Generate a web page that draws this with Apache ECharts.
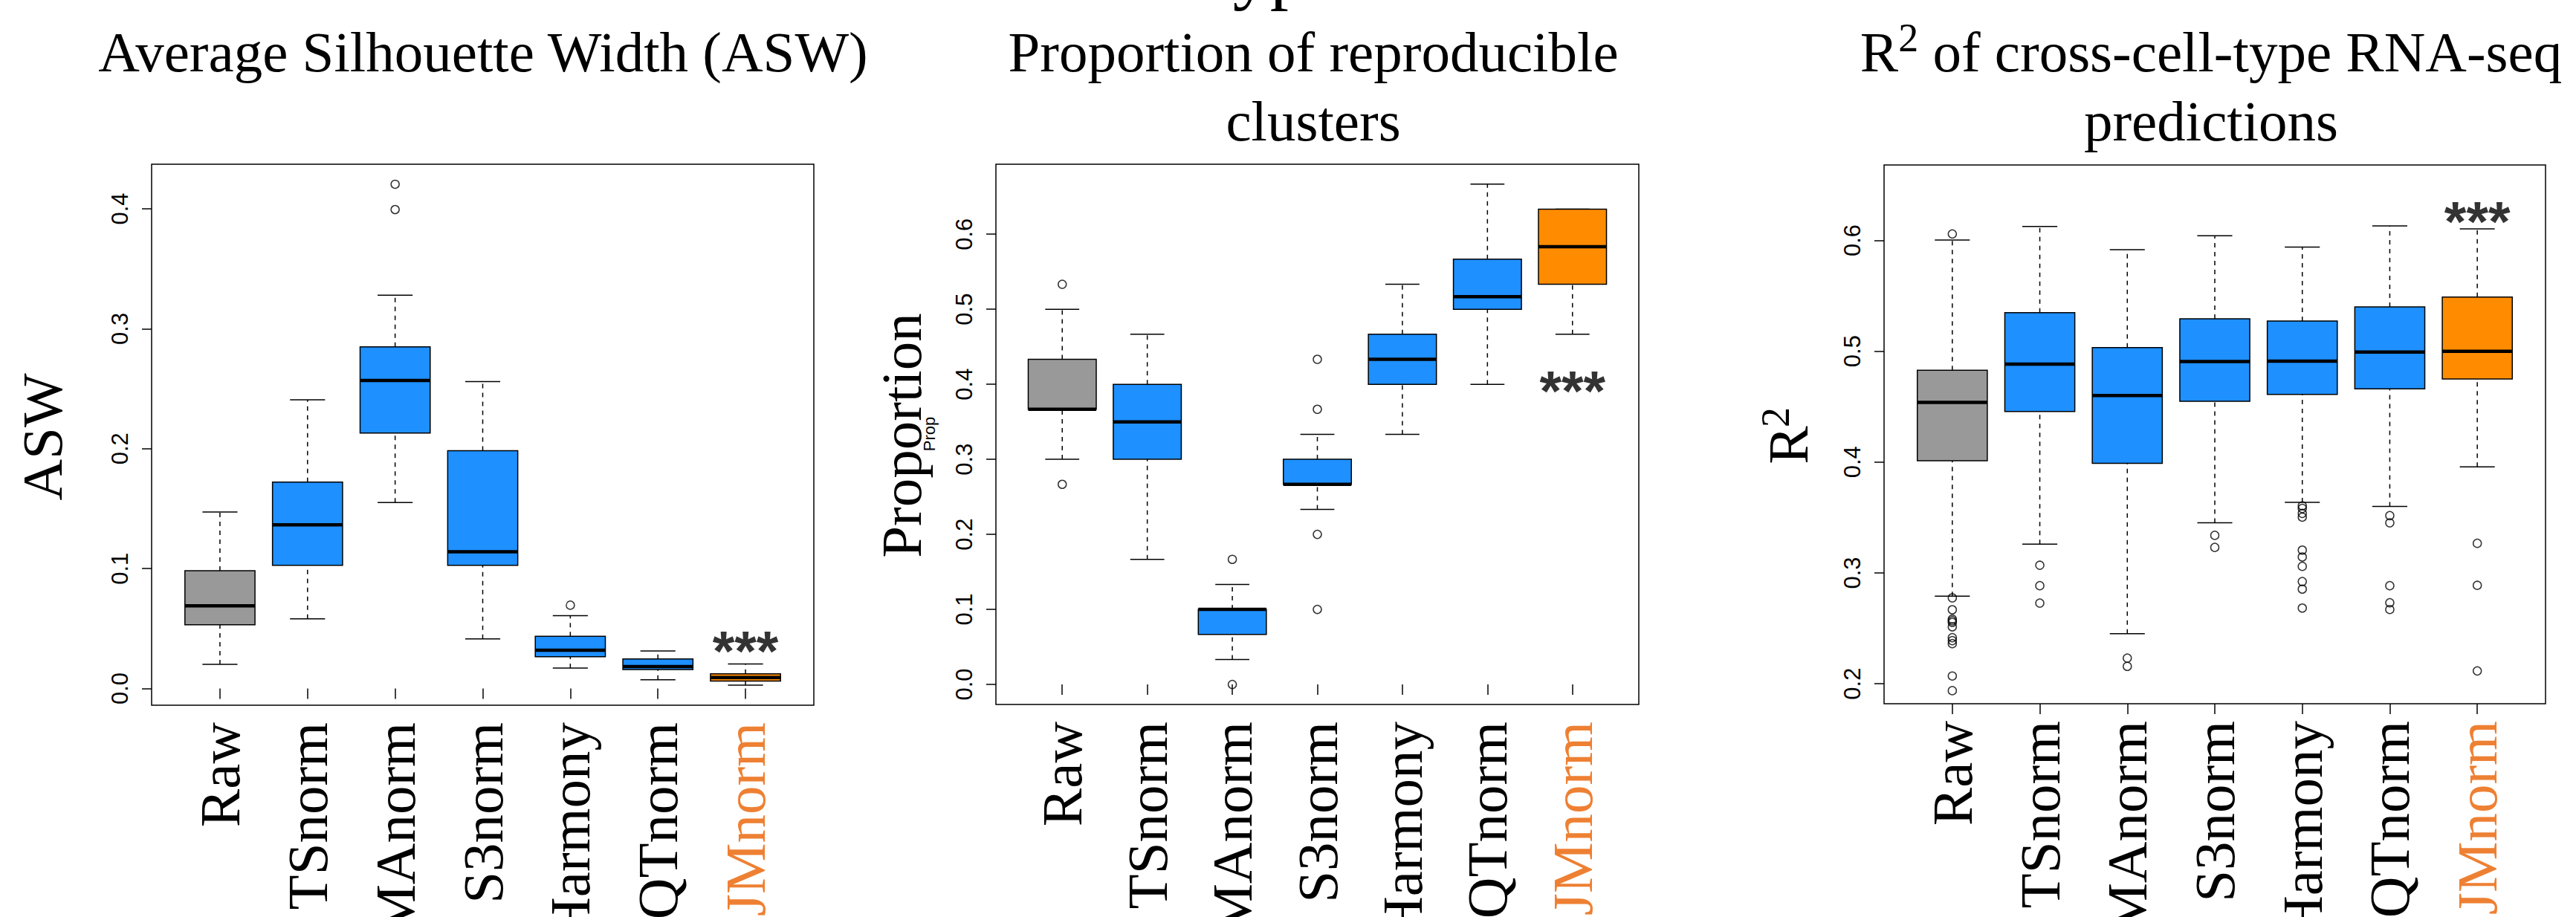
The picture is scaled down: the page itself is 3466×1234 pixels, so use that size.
<!DOCTYPE html>
<html>
<head>
<meta charset="utf-8">
<script src="https://cdn.jsdelivr.net/npm/echarts@6/dist/echarts.min.js"></script>
<style>
  html, body { margin: 0; padding: 0; background: #ffffff; }
  #chart { width: 3466px; height: 1234px; }
</style>
</head>
<body>
<div id="chart"></div>
<script>
// ---------------- data ----------------
const categories = ['Raw', 'TSnorm', 'MAnorm', 'S3norm', 'Harmony', 'QTnorm', 'JMnorm'];
const boxColors = ['#999999', '#1E90FF', '#1E90FF', '#1E90FF', '#1E90FF', '#1E90FF', '#FF8C00'];
const labelColors = ['#000', '#000', '#000', '#000', '#000', '#000', '#EE8033'];

// box stats: [lower whisker, Q1, median, Q3, upper whisker]
const aswStats = [
  [0.0202, 0.0531, 0.0689, 0.0983, 0.1472],
  [0.0581, 0.1027, 0.1365, 0.1722, 0.2408],
  [0.1551, 0.2130, 0.2569, 0.2850, 0.3280],
  [0.0414, 0.1027, 0.1141, 0.1984, 0.2559],
  [0.0171, 0.0265, 0.0319, 0.0436, 0.0607],
  [0.0073, 0.0158, 0.0183, 0.0246, 0.0313],
  [0.0028, 0.0063, 0.0092, 0.0123, 0.0205]
];
const aswOutliers = [[], [], [0.4205, 0.3994], [], [0.0695], [], []];

const propStats = [
  [0.3000, 0.3667, 0.3667, 0.4333, 0.5000],
  [0.1667, 0.3000, 0.3500, 0.4000, 0.4667],
  [0.0333, 0.0667, 0.1000, 0.1000, 0.1333],
  [0.2333, 0.2667, 0.2667, 0.3000, 0.3333],
  [0.3333, 0.4000, 0.4333, 0.4667, 0.5333],
  [0.4000, 0.5000, 0.5167, 0.5667, 0.6667],
  [0.4667, 0.5333, 0.5833, 0.6333, 0.6333]
];
const propOutliers = [[0.5333, 0.2667], [], [0.1667, 0.0], [0.4333, 0.3667, 0.2, 0.1], [], [], []];

const r2Stats = [
  [0.2790, 0.4012, 0.4538, 0.4828, 0.6003],
  [0.3260, 0.4456, 0.4883, 0.5348, 0.6126],
  [0.2451, 0.3988, 0.4600, 0.5033, 0.5915],
  [0.3452, 0.4548, 0.4907, 0.5293, 0.6041],
  [0.3636, 0.4610, 0.4910, 0.5272, 0.5939],
  [0.3599, 0.4661, 0.4992, 0.5399, 0.6130],
  [0.3957, 0.4750, 0.4999, 0.5488, 0.6103]
];
const r2Outliers = [
  [0.6058, 0.2775, 0.2668, 0.2583, 0.2568, 0.2554, 0.2514, 0.2416, 0.2389, 0.2362, 0.2070, 0.1938],
  [0.3069, 0.2885, 0.2728],
  [0.2232, 0.2157],
  [0.3339, 0.3230],
  [0.3605, 0.3582, 0.3537, 0.3503, 0.3206, 0.3144, 0.3059, 0.2922, 0.2854, 0.2683],
  [0.3517, 0.3452, 0.2885, 0.2731, 0.2670],
  [0.3267, 0.2888, 0.2116]
];

// significance marks: [category position, y value]
const aswStar = [7, 0.042];
const propStar = [7, 0.409];
const r2Star = [7, 0.6286];

const aswTicks = [0, 0.1, 0.2, 0.3, 0.4];
const propTicks = [0, 0.1, 0.2, 0.3, 0.4, 0.5, 0.6];
const r2Ticks = [0.2, 0.3, 0.4, 0.5, 0.6];
const xTicks = [1, 2, 3, 4, 5, 6, 7];

// axis ranges (R style 4% extension)
const aswRange = [-0.0139, 0.4372];
const propRange = [-0.0267, 0.6933];
const r2Range = [0.182, 0.668];
const xRange = [0.22, 7.78];

// ---------------- chart ----------------
const SERIF = 'Liberation Serif';
const SANS = 'Liberation Sans';

const chart = echarts.init(document.getElementById('chart'), null, { renderer: 'svg' });

const grids = [
  { left: 204, top: 221, width: 891, height: 728 },
  { left: 1340, top: 221, width: 865, height: 727 },
  { left: 2535, top: 222, width: 890, height: 725 }
].map(g => Object.assign({ show: true, borderColor: '#000', borderWidth: 1.5, backgroundColor: 'transparent', containLabel: false, outerBoundsMode: 'none' }, g));

function xAxisFor(i) {
  return {
    type: 'value', gridIndex: i, min: xRange[0], max: xRange[1],
    axisLine: { show: false },
    splitLine: { show: false },
    axisTick: { show: true, customValues: xTicks, length: 14, lineStyle: { color: '#000', width: 1.5 } },
    axisLabel: {
      show: true, customValues: xTicks, rotate: 90, margin: 23,
      fontFamily: SERIF, fontSize: 77,
      formatter: v => categories[Math.round(v) - 1],
      color: (v, idx) => labelColors[Math.round(Number(v)) - 1]
    }
  };
}
function yAxisFor(i, range, ticks) {
  return {
    type: 'value', gridIndex: i, min: range[0], max: range[1],
    axisLine: { show: false },
    splitLine: { show: false },
    axisTick: { show: true, customValues: ticks, length: 13, lineStyle: { color: '#000', width: 1.5 } },
    axisLabel: {
      show: true, customValues: ticks, rotate: 90, margin: 27,
      fontFamily: SANS, fontSize: 31, color: '#000',
      formatter: v => Number(v).toFixed(1)
    }
  };
}

function boxData(stats) {
  return stats.map((s, i) => [i + 1, s[0], s[1], s[2], s[3], s[4]]);
}
function outlierData(outs) {
  const d = [];
  outs.forEach((arr, i) => arr.forEach(v => d.push([i + 1, v])));
  return d;
}

function renderBox(params, api) {
  const x = api.value(0);
  const lo = api.coord([x, api.value(1)]);
  const q1 = api.coord([x, api.value(2)]);
  const md = api.coord([x, api.value(3)]);
  const q3 = api.coord([x, api.value(4)]);
  const hi = api.coord([x, api.value(5)]);
  const cx = lo[0];
  const halfBox = api.size([0.4, 0])[0];
  const halfCap = api.size([0.2, 0])[0];
  const color = boxColors[params.dataIndex];
  const thin = { stroke: '#000', lineWidth: 1.5 };
  const dash = { stroke: '#000', lineWidth: 1.5, lineDash: [6, 6] };
  return {
    type: 'group',
    children: [
      { type: 'line', shape: { x1: cx, y1: lo[1], x2: cx, y2: q1[1] }, style: dash },
      { type: 'line', shape: { x1: cx, y1: q3[1], x2: cx, y2: hi[1] }, style: dash },
      { type: 'line', shape: { x1: cx - halfCap, y1: lo[1], x2: cx + halfCap, y2: lo[1] }, style: thin },
      { type: 'line', shape: { x1: cx - halfCap, y1: hi[1], x2: cx + halfCap, y2: hi[1] }, style: thin },
      { type: 'rect', shape: { x: cx - halfBox, y: q3[1], width: 2 * halfBox, height: q1[1] - q3[1] },
        style: { fill: color, stroke: '#000', lineWidth: 1.5 } },
      { type: 'line', shape: { x1: cx - halfBox, y1: md[1], x2: cx + halfBox, y2: md[1] },
        style: { stroke: '#000', lineWidth: 4.5 } }
    ]
  };
}

function panelSeries(i, stats, outs, star) {
  return [
    {
      type: 'custom', xAxisIndex: i, yAxisIndex: i,
      data: boxData(stats), renderItem: renderBox,
      encode: { x: 0, y: [1, 2, 3, 4, 5] }, silent: true, clip: false
    },
    {
      type: 'scatter', xAxisIndex: i, yAxisIndex: i,
      data: outlierData(outs), symbol: 'circle', symbolSize: 11,
      itemStyle: { color: 'rgba(0,0,0,0)', borderColor: '#000', borderWidth: 1.5 },
      silent: true
    },
    {
      type: 'scatter', xAxisIndex: i, yAxisIndex: i,
      data: [star], symbolSize: 0, silent: true,
      label: {
        show: true, position: 'inside', formatter: '***', offset: [0, 17],
        fontFamily: SANS, fontWeight: 'bold', fontSize: 76, color: '#000'
      }
    }
  ];
}

const titleStyle = {
  fontFamily: SERIF, fontSize: 77, fontWeight: 'normal', color: '#000', lineHeight: 93
};

function rotText(text, x, y, size, family) {
  return {
    type: 'text', x: x, y: y, rotation: Math.PI / 2, silent: true,
    style: {
      text: text, fontFamily: family, fontSize: size, fill: '#000',
      align: 'center', verticalAlign: 'middle',
      textAlign: 'center', textVerticalAlign: 'middle'
    }
  };
}

const option = {
  backgroundColor: '#ffffff',
  animation: false,
  title: [
    { text: 'Average Silhouette Width (ASW)', left: 650, top: 23.5, textAlign: 'center', padding: 0, textStyle: titleStyle },
    { text: 'Proportion of reproducible\nclusters', left: 1767, top: 23.5, textAlign: 'center', padding: 0, textStyle: titleStyle },
    {
      text: '{a|R}{s|2}{a| of cross-cell-type RNA-seq}\n{a|predictions}',
      left: 2975, top: 23.5, textAlign: 'center', padding: 0,
      textStyle: Object.assign({}, titleStyle, {
        rich: {
          a: { fontFamily: SERIF, fontSize: 77, color: '#000', lineHeight: 93 },
          s: { fontFamily: SERIF, fontSize: 54, color: '#000', lineHeight: 59, verticalAlign: 'top' }
        }
      })
    }
  ],
  grid: grids,
  xAxis: [xAxisFor(0), xAxisFor(1), xAxisFor(2)],
  yAxis: [yAxisFor(0, aswRange, aswTicks), yAxisFor(1, propRange, propTicks), yAxisFor(2, r2Range, r2Ticks)],
  series: [].concat(
    panelSeries(0, aswStats, aswOutliers, aswStar),
    panelSeries(1, propStats, propOutliers, propStar),
    panelSeries(2, r2Stats, r2Outliers, r2Star)
  ),
  graphic: [
    // top headline, only its descenders fall inside the picture
    {
      type: 'text', x: 1631, y: -39.5, silent: true,
      style: { text: 'type', fontFamily: SERIF, fontSize: 100, fill: '#000',
        align: 'left', verticalAlign: 'middle', textAlign: 'left', textVerticalAlign: 'middle' }
    },
    rotText('ASW', 57, 588, 77, SERIF),
    rotText('Proportion', 1213, 586, 77, SERIF),
    rotText('Prop', 1250, 584, 22, SANS),
    rotText('R', 2406, 599, 77, SERIF),
    rotText('2', 2389, 561.5, 54, SERIF)
  ]
};

chart.setOption(option);
</script>
</body>
</html>
